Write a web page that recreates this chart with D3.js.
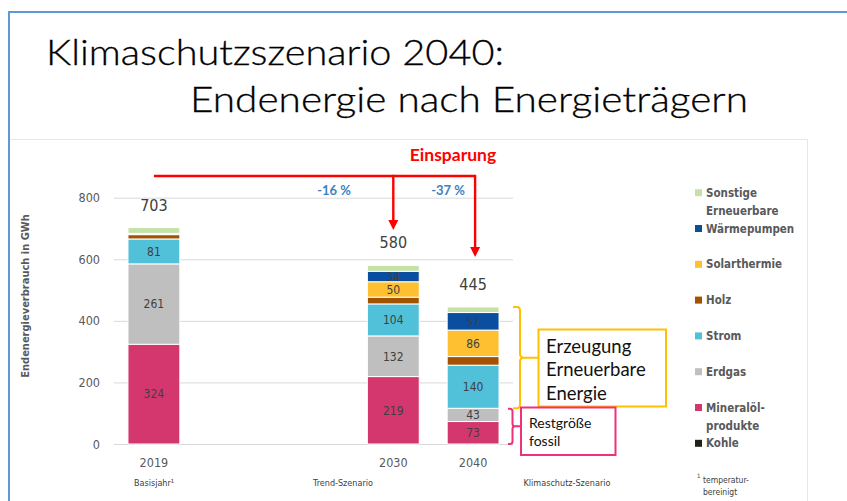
<!DOCTYPE html>
<html>
<head>
<meta charset="utf-8">
<script src="https://cdn.jsdelivr.net/npm/d3@7"></script>
<style>
  body { margin: 0; background: #fff; }
  svg { display: block; }
</style>
</head>
<body>
<div id="chart"></div>
<script>
// values (GWh), bottom -> top of each stack
const categories = ["2019", "2030", "2040"]
const slots = ["2019", "gap1", "gap2", "2030", "2040"]
const subLabels = ["Basisjahr¹", "Trend-Szenario", "Klimaschutz-Szenario"]
const kohle = [0, 0, 0]
const mineraloel = [324, 219, 73]
const erdgas = [261, 132, 43]
const strom = [81, 104, 140]
const holz = [14, 22, 28]
const solar = [2, 50, 86]
const waerme = [2, 34, 57]
const sonstige = [19, 19, 18]
const savings = ["-16 %", "-37 %"]
const yTicks = [0, 200, 400, 600, 800]

const seriesNames = ["Kohle", "Mineralöl-produkte", "Erdgas", "Strom", "Holz", "Solarthermie", "Wärmepumpen", "Sonstige Erneuerbare"]
const seriesValues = [kohle, mineraloel, erdgas, strom, holz, solar, waerme, sonstige]
const colors = ["#222019", "#D4376E", "#BFBFBF", "#51C0D9", "#A35200", "#FEC030", "#0A4E9F", "#C5E2A6"]

const W = 847, H = 501
const cond = '"DejaVu Sans Condensed", "Liberation Sans Narrow", sans-serif'
const gray = "#595959", dark = "#404040"

const svg = d3.select("#chart").append("svg")
    .attr("width", W).attr("height", H)

// slide frame + picture frame
svg.append("path")
    .attr("d", "M9,512 V12 H860")
    .attr("fill", "none").attr("stroke", "#5B9BD5").attr("stroke-width", 2)
svg.append("path")
    .attr("d", "M10,139.5 H807.5 V510")
    .attr("fill", "none").attr("stroke", "#E6E6E6").attr("stroke-width", 1)

// title
svg.append("text").attr("x", 46).attr("y", 65)
    .attr("font-family", "Lato, sans-serif").attr("font-weight", 300).attr("font-size", 36)
    .attr("textLength", 458).attr("lengthAdjust", "spacingAndGlyphs")
    .attr("fill", "#000").attr("stroke", "#000").attr("stroke-width", 0.3)
    .text("Klimaschutzszenario 2040:")
svg.append("text").attr("x", 190).attr("y", 111.5)
    .attr("font-family", "Lato, sans-serif").attr("font-weight", 300).attr("font-size", 36)
    .attr("textLength", 558).attr("lengthAdjust", "spacingAndGlyphs")
    .attr("fill", "#000").attr("stroke", "#000").attr("stroke-width", 0.3)
    .text("Endenergie nach Energieträgern")

// scales
const x = d3.scaleBand().domain(slots).range([114, 513]).paddingInner(0.35).paddingOuter(0.175)
const y = d3.scaleLinear().domain([0, 800]).range([444, 197.7])
const cx = c => x(c) + x.bandwidth() / 2

// gridlines + y axis labels
const yAxis = svg.append("g").attr("transform", "translate(114,0)")
    .call(d3.axisLeft(y).tickValues(yTicks).tickSize(-399).tickPadding(14))
yAxis.select(".domain").remove()
yAxis.selectAll(".tick line").attr("stroke", "#D9D9D9")
yAxis.selectAll(".tick text").attr("fill", gray).attr("font-family", cond).attr("font-size", 12.5)

svg.append("text")
    .attr("transform", "translate(29,296) rotate(-90)")
    .attr("text-anchor", "middle").attr("font-family", cond).attr("font-weight", "bold")
    .attr("font-size", 11).attr("fill", gray).text("Endenergieverbrauch in GWh")

// stacked bars
const rows = categories.map((c, i) => {
    const r = {cat: c}
    seriesNames.forEach((s, k) => r[s] = seriesValues[k][i])
    return r
})
const stacked = d3.stack().keys(seriesNames)(rows)

const layers = svg.append("g").selectAll("g").data(stacked).enter().append("g")
    .attr("fill", (d, k) => colors[k])
layers.selectAll("rect").data(d => d).enter().append("rect")
    .attr("x", d => x(d.data.cat))
    .attr("width", x.bandwidth())
    .attr("y", d => y(d[1]))
    .attr("height", d => y(d[0]) - y(d[1]))
    .attr("stroke", "#fff").attr("stroke-width", 1)

// segment labels
layers.selectAll("text").data(d => d.filter(p => p[1] - p[0] >= 30)).enter().append("text")
    .attr("x", d => cx(d.data.cat))
    .attr("y", d => y((d[0] + d[1]) / 2))
    .attr("dy", "0.36em")
    .attr("text-anchor", "middle").attr("font-family", cond).attr("font-size", 12)
    .attr("fill", dark).text(d => d[1] - d[0])

// totals
const totals = categories.map((c, i) => d3.sum(seriesValues, v => v[i]))
svg.append("g").selectAll("text").data(categories).enter().append("text")
    .attr("x", c => cx(c))
    .attr("y", (c, i) => y(totals[i]) - 17)
    .attr("text-anchor", "middle").attr("font-family", cond).attr("font-size", 16)
    .attr("fill", dark).text((c, i) => totals[i])

// category labels
svg.append("g").selectAll("text").data(categories).enter().append("text")
    .attr("x", c => cx(c)).attr("y", 466.5)
    .attr("text-anchor", "middle").attr("font-family", cond).attr("font-size", 12.5)
    .attr("fill", gray).text(c => c)
const subX = [154, 343, 567]
svg.append("g").selectAll("text").data(subLabels).enter().append("text")
    .attr("x", (d, i) => subX[i]).attr("y", 486)
    .attr("text-anchor", "middle").attr("font-family", cond).attr("font-size", 9)
    .attr("fill", dark).text(d => d)

// Einsparung arrows
const red = "#FF0000"
const lineY = 176
const tips = [230, 257]
const arr = svg.append("g")
arr.append("path")
    .attr("d", `M${cx("2019")},${lineY} H${cx("2040") + 2}`)
    .attr("stroke", red).attr("stroke-width", 2.4).attr("fill", "none")
;["2030", "2040"].forEach((c, i) => {
    const ax = cx(c) + (i === 1 ? 2 : 0)
    arr.append("path").attr("d", `M${ax},${lineY - 1.2} V${tips[i] - 9}`)
        .attr("stroke", red).attr("stroke-width", 2.4)
    arr.append("path").attr("d", `M${ax - 5},${tips[i] - 10} L${ax + 5},${tips[i] - 10} L${ax},${tips[i]} Z`)
        .attr("fill", red)
})
arr.append("text").attr("x", 453).attr("y", 161)
    .attr("text-anchor", "middle").attr("font-family", "Lato, sans-serif").attr("font-weight", "bold")
    .attr("font-size", 17.5).attr("fill", red).text("Einsparung")
const savX = [334, 448]
arr.selectAll(".sav").data(savings).enter().append("text")
    .attr("x", (d, i) => savX[i]).attr("y", 194.5)
    .attr("text-anchor", "middle").attr("font-family", "Lato, sans-serif").attr("font-weight", "bold")
    .attr("font-size", 13).attr("fill", "#3F7FC1").text(d => d)

// brackets for 2040
const fossil = mineraloel[2] + erdgas[2] + kohle[2]
const yTop = y(totals[2]), yMid = y(fossil), yBot = y(0)
const yel = "#FFC000", pink = "#F0307A"
const ym = (yTop + yMid) / 2
svg.append("path")
    .attr("d", `M513,${yTop} H517 Q520,${yTop} 520,${yTop + 4} V${ym - 4} Q520,${ym} 524,${ym} H538 M524,${ym} Q520,${ym} 520,${ym + 4} V${yMid - 4} Q520,${yMid} 517,${yMid} H513`)
    .attr("fill", "none").attr("stroke", yel).attr("stroke-width", 2)
const pm = (yMid + yBot) / 2
svg.append("path")
    .attr("d", `M508,${yMid + 0.5} H510 Q512.5,${yMid + 0.5} 512.5,${yMid + 3} V${pm - 2.5} Q512.5,${pm} 515,${pm} H521 M515,${pm} Q512.5,${pm} 512.5,${pm + 2.5} V${yBot - 2.5} Q512.5,${yBot} 510,${yBot} H508`)
    .attr("fill", "none").attr("stroke", pink).attr("stroke-width", 2)

svg.append("rect").attr("x", 538.5).attr("y", 329.5).attr("width", 127.5).attr("height", 77)
    .attr("fill", "#fff").attr("stroke", yel).attr("stroke-width", 2)
;["Erzeugung", "Erneuerbare", "Energie"].forEach((t, i) => {
    svg.append("text").attr("x", 546).attr("y", 353 + i * 23.3)
        .attr("font-family", "Lato, sans-serif").attr("font-size", 18.5).attr("fill", "#111").text(t)
})
svg.append("rect").attr("x", 521).attr("y", 407.5).attr("width", 94.5).attr("height", 47.5)
    .attr("fill", "#fff").attr("stroke", pink).attr("stroke-width", 2)
;["Restgröße", "fossil"].forEach((t, i) => {
    svg.append("text").attr("x", 529).attr("y", 427.5 + i * 18)
        .attr("font-family", "Lato, sans-serif").attr("font-size", 14).attr("fill", "#111").text(t)
})

// legend (top -> bottom)
const legend = svg.append("g")
const legOrder = d3.range(seriesNames.length).reverse()
legOrder.forEach((k, j) => {
    const ly = 192.7 + j * 35.8
    legend.append("rect").attr("x", 695).attr("y", ly - 3.5).attr("width", 7).attr("height", 7)
        .attr("fill", colors[k])
    const parts = seriesNames[k] === "Mineralöl-produkte" ? ["Mineralöl-", "produkte"] : seriesNames[k].split(" ")
    parts.forEach((p, m) => {
        legend.append("text").attr("x", 706).attr("y", ly + m * 18.5).attr("dy", "0.36em")
            .attr("font-family", cond).attr("font-weight", "bold").attr("font-size", 11.5)
            .attr("fill", gray).text(p)
    })
})
svg.append("text").attr("x", 697).attr("y", 478).attr("font-family", cond).attr("font-size", 6).attr("fill", dark).text("1")
svg.append("text").attr("x", 703).attr("y", 483).attr("font-family", cond).attr("font-size", 8.5).attr("fill", dark).text("temperatur-")
svg.append("text").attr("x", 703).attr("y", 495).attr("font-family", cond).attr("font-size", 8.5).attr("fill", dark).text("bereinigt")
</script>
</body>
</html>
